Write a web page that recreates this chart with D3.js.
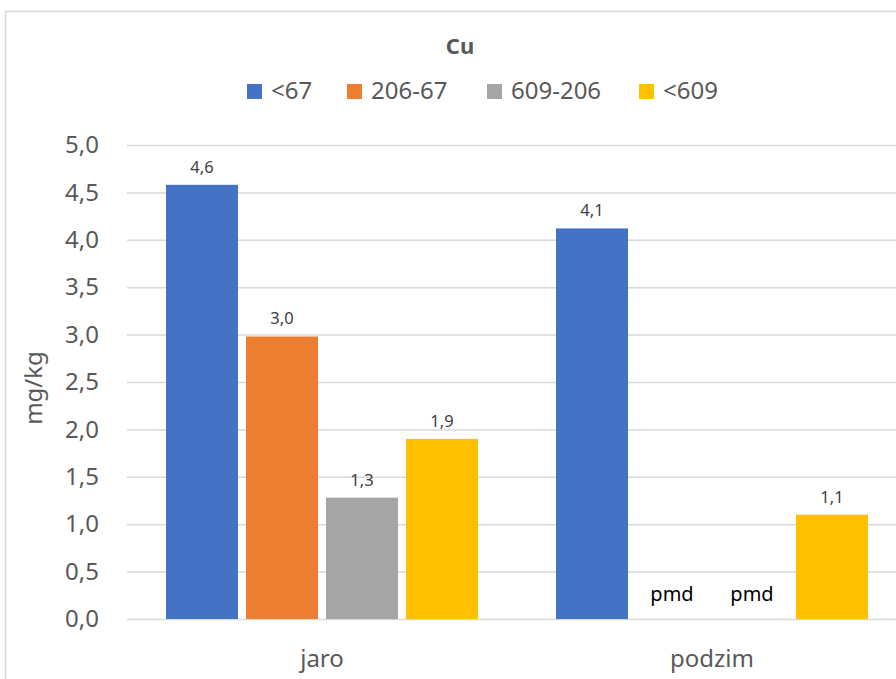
<!DOCTYPE html>
<html>
<head>
<meta charset="utf-8">
<script src="https://cdn.jsdelivr.net/npm/d3@7"></script>
<style>
  html, body { margin: 0; padding: 0; background: #fff; }
  svg { display: block; }
</style>
</head>
<body>
<svg id="chart" width="896" height="679"></svg>
<script>
// Cu concentration by season and group
const categories = ["jaro", "podzim"];
const seriesNames = ["<67", "206-67", "609-206", "<609"];
const seriesColors = ["#4472C4", "#ED7D31", "#A5A5A5", "#FFC000"];
// null = below detection limit (pmd)
const valuesJaro = [4.58, 2.98, 1.28, 1.9];
const valuesPodzim = [4.12, null, null, 1.1];
const yTicks = [0, 0.5, 1, 1.5, 2, 2.5, 3, 3.5, 4, 4.5, 5];
const chartTitle = "Cu";
const yTitle = "mg/kg";
const missingLabel = "pmd";

const rows = [valuesJaro, valuesPodzim];
const font = "'Noto Sans', 'Open Sans', sans-serif";
const svg = d3.select("#chart");

// outer chart frame
svg.append("rect")
  .attr("x", 5.5).attr("y", 11.5)
  .attr("width", 1000).attr("height", 1000)
  .attr("fill", "#fff").attr("stroke", "#d9d9d9").attr("stroke-width", 1.5);

const plot = { left: 127, right: 907, top: 145, bottom: 619 };

const x0 = d3.scaleBand().domain(categories).range([plot.left, plot.right]);
const groupInset = 39;
const x1 = d3.scaleBand().domain(seriesNames)
  .range([groupInset, x0.bandwidth() - groupInset]).paddingInner(0.1).paddingOuter(0);
const y = d3.scaleLinear().domain([0, 5]).range([plot.bottom, plot.top]);
const fmt = v => d3.format(".1f")(v).replace(".", ",");

// gridlines and value axis
const yAxis = d3.axisLeft(y).tickValues(yTicks).tickSize(-(plot.right - plot.left)).tickFormat(fmt).tickPadding(28);
const gy = svg.append("g").attr("transform", `translate(${plot.left},0)`).call(yAxis);
gy.select(".domain").remove();
gy.selectAll(".tick line").attr("stroke", "#d9d9d9").attr("stroke-width", 1.5);
gy.selectAll(".tick text")
  .attr("fill", "#595959").style("font-family", font).style("font-size", "24px");

// category axis labels
const gx = svg.append("g").attr("transform", `translate(0,${plot.bottom})`)
  .call(d3.axisBottom(x0).tickSize(0).tickPadding(31));
gx.select(".domain").remove();
gx.selectAll(".tick text").attr("fill", "#595959").style("font-family", font).style("font-size", "24px");

// bars
const groups = svg.selectAll("g.cat").data(categories).enter().append("g")
  .attr("class", "cat").attr("transform", d => `translate(${x0(d)},0)`);

groups.each(function(cat, ci) {
  const g = d3.select(this);
  const data = seriesNames.map((s, si) => ({ s, si, v: rows[ci][si] }));
  g.selectAll("rect").data(data.filter(d => d.v !== null)).enter().append("rect")
    .attr("x", d => x1(d.s)).attr("width", x1.bandwidth())
    .attr("y", d => y(d.v)).attr("height", d => y(0) - y(d.v))
    .attr("fill", d => seriesColors[d.si]);
  g.selectAll("text.val").data(data).enter().append("text")
    .attr("class", "val")
    .attr("x", d => x1(d.s) + x1.bandwidth() / 2)
    .attr("y", d => d.v === null ? y(0) - 18 : y(d.v) - 12)
    .attr("text-anchor", "middle")
    .attr("fill", d => d.v === null ? "#000" : "#404040")
    .style("font-family", font)
    .style("font-size", d => d.v === null ? "20px" : "16.5px")
    .text(d => d.v === null ? missingLabel : fmt(d.v));
});

// y-axis title
svg.append("text")
  .attr("transform", "translate(42,388) rotate(-90)")
  .attr("text-anchor", "middle")
  .attr("fill", "#595959").style("font-family", font).style("font-size", "24px")
  .text(yTitle);

// title
svg.append("text")
  .attr("x", 460).attr("y", 54).attr("text-anchor", "middle")
  .attr("fill", "#595959").style("font-family", font).style("font-size", "22px").style("font-weight", "bold")
  .text(chartTitle);

// legend
const legendX = [247, 347, 487, 639];
const lg = svg.selectAll("g.leg").data(seriesNames).enter().append("g")
  .attr("class", "leg").attr("transform", (d, i) => `translate(${legendX[i]},84)`);
lg.append("rect").attr("width", 15).attr("height", 15).attr("fill", (d, i) => seriesColors[i]);
lg.append("text").attr("x", 24).attr("y", 15)
  .attr("fill", "#595959").style("font-family", font).style("font-size", "24px")
  .text(d => d);
</script>
</body>
</html>
